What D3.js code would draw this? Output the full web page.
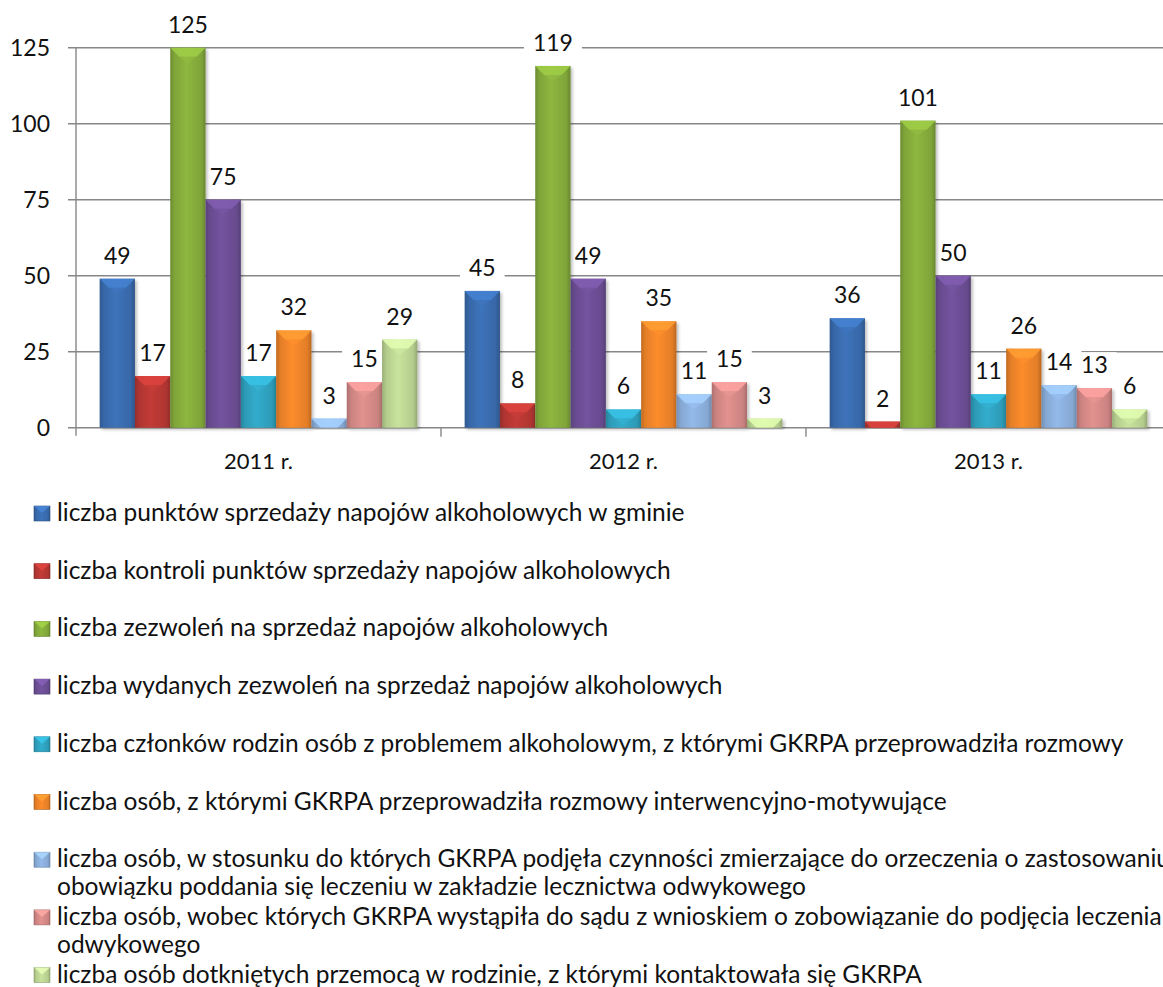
<!DOCTYPE html>
<html>
<head>
<meta charset="utf-8">
<script src="https://cdn.jsdelivr.net/npm/d3@7"></script>
<style>
    body { margin: 0; background: #fff; }
    svg { display: block; font-family: Lato, "Open Sans", sans-serif; }
</style>
</head>
<body>
<svg id="chart" width="1163" height="987"></svg>
<script>
// data
const years = ["2011 r.", "2012 r.", "2013 r."];
const seriesNames = [
    "liczba punktów sprzedaży napojów alkoholowych w gminie",
    "liczba kontroli punktów sprzedaży napojów alkoholowych",
    "liczba zezwoleń na sprzedaż napojów alkoholowych",
    "liczba wydanych zezwoleń na sprzedaż napojów alkoholowych",
    "liczba członków rodzin osób z problemem alkoholowym, z którymi GKRPA przeprowadziła rozmowy",
    "liczba osób, z którymi GKRPA przeprowadziła rozmowy interwencyjno-motywujące",
    "liczba osób, w stosunku do których GKRPA podjęła czynności zmierzające do orzeczenia o zastosowaniu|obowiązku poddania się leczeniu w zakładzie lecznictwa odwykowego",
    "liczba osób, wobec których GKRPA wystąpiła do sądu z wnioskiem o zobowiązanie do podjęcia leczenia|odwykowego",
    "liczba osób dotkniętych przemocą w rodzinie, z którymi kontaktowała się GKRPA"
];
const values2011 = [49, 17, 125, 75, 17, 32, 3, 15, 29];
const values2012 = [45, 8, 119, 49, 6, 35, 11, 15, 3];
const values2013 = [36, 2, 101, 50, 11, 26, 14, 13, 6];
const yTicks = [0, 25, 50, 75, 100, 125];

const colors = ["#3a6db0", "#b93834", "#86ad3c", "#6d4f96", "#2fa3c1",
                "#f0852a", "#8cb0de", "#d68a88", "#bed795"];

const layout = {
    left: 76, top: 47.7, bottom: 427.7, groupWidth: 365,
    legendX: 34, legendTop: 521, legendStep: 57.7, wrapStep: 28
};

const svg = d3.select("#chart");
const defs = svg.append("defs");
const valuesByYear = [values2011, values2012, values2013];

// horizontal gradient per series, darker at the edges like the bevelled bars
colors.forEach(function(c, i) {
    let g = defs.append("linearGradient").attr("id", "grad" + i)
        .attr("x1", "0").attr("x2", "1").attr("y1", "0").attr("y2", "0");
    let base = d3.color(c);
    g.append("stop").attr("offset", "0%").attr("stop-color", base.darker(0.6));
    g.append("stop").attr("offset", "12%").attr("stop-color", base.darker(0.15));
    g.append("stop").attr("offset", "45%").attr("stop-color", base.brighter(0.15));
    g.append("stop").attr("offset", "88%").attr("stop-color", base.darker(0.15));
    g.append("stop").attr("offset", "100%").attr("stop-color", base.darker(0.7));
});

let shadow = defs.append("filter").attr("id", "shadow")
    .attr("x", "-20%").attr("y", "-10%").attr("width", "150%").attr("height", "130%");
shadow.append("feDropShadow").attr("dx", 2).attr("dy", 2).attr("stdDeviation", 1.5)
    .attr("flood-color", "#000").attr("flood-opacity", 0.25);

const x0 = d3.scaleBand().domain(years)
    .range([layout.left, layout.left + layout.groupWidth * years.length]);
const x1 = d3.scaleBand().domain(d3.range(seriesNames.length))
    .range([0, x0.bandwidth()]).paddingInner(0).paddingOuter(0.67);
const y = d3.scaleLinear().domain([0, 125]).range([layout.bottom, layout.top]);

// gridlines
svg.append("g").selectAll("line").data(yTicks).enter().append("line")
    .attr("x1", layout.left - 8).attr("x2", 1163)
    .attr("y1", d => y(d)).attr("y2", d => y(d))
    .attr("stroke", "#878787").attr("stroke-width", 1.4);

// left axis line + labels
svg.append("line").attr("x1", layout.left).attr("x2", layout.left)
    .attr("y1", y(125)).attr("y2", layout.bottom + 8)
    .attr("stroke", "#878787").attr("stroke-width", 1.4);
svg.append("g").selectAll("text").data(yTicks).enter().append("text")
    .attr("x", 50).attr("y", d => y(d) + 8)
    .attr("text-anchor", "end").attr("font-size", 23).attr("fill", "#111")
    .text(d => d);

// category ticks and labels
svg.append("g").selectAll("line").data(years.slice(1)).enter().append("line")
    .attr("x1", d => x0(d)).attr("x2", d => x0(d))
    .attr("y1", layout.bottom).attr("y2", layout.bottom + 9)
    .attr("stroke", "#878787").attr("stroke-width", 1.4);
svg.append("g").selectAll("text").data(years).enter().append("text")
    .attr("x", d => x0(d) + x0.bandwidth() / 2).attr("y", 469)
    .attr("text-anchor", "middle").attr("font-size", 22).attr("fill", "#111")
    .text(d => d);

// layers: label backgrounds sit under the bars but over the gridlines
const bgLayer = svg.append("g");
const barLayer = svg.append("g");
const labelLayer = svg.append("g");

years.forEach(function(year, yi) {
    let gx = x0(year);
    let w = x1.bandwidth();
    valuesByYear[yi].forEach(function(v, si) {
        let bx = gx + x1(si), by = y(v), bh = layout.bottom - y(v);
        let bar = barLayer.append("g");
        bar.append("rect")
            .attr("x", bx).attr("y", by).attr("width", w).attr("height", bh)
            .attr("fill", "url(#grad" + si + ")")
            .attr("filter", "url(#shadow)");
        // top bevel
        let b = Math.min(9, bh);
        let base = d3.color(colors[si]);
        bar.append("path")
            .attr("d", "M" + bx + "," + by + "L" + (bx + w) + "," + by +
                "L" + (bx + w - b) + "," + (by + b) + "L" + (bx + b) + "," + (by + b) + "Z")
            .attr("fill", base.brighter(0.5)).attr("opacity", 0.85);
        let c = Math.min(6, bh - b);
        if (c > 0) {
            bar.append("path")
                .attr("d", "M" + (bx + b) + "," + (by + b) + "L" + (bx + w / 2) + "," + (by + b + c) +
                    "L" + (bx + w - b) + "," + (by + b) + "Z")
                .attr("fill", base.brighter(0.25)).attr("opacity", 0.6);
        }

        // value label
        let txt = labelLayer.append("text")
            .attr("x", bx + w / 2).attr("y", by - 15)
            .attr("text-anchor", "middle").attr("font-size", 23).attr("fill", "#111")
            .text(v);
        let bb = txt.node().getBBox();
        bgLayer.append("rect")
            .attr("x", bb.x - 9).attr("y", bb.y + 2).attr("width", bb.width + 18).attr("height", bb.height - 3)
            .attr("fill", "#fff");
    });
});

// legend
const legend = svg.append("g");
seriesNames.forEach(function(name, i) {
    let rowY = layout.legendTop + i * layout.legendStep;
    let base = d3.color(colors[i]);
    legend.append("rect")
        .attr("x", layout.legendX).attr("y", rowY - 15).attr("width", 16).attr("height", 15)
        .attr("fill", "url(#grad" + i + ")")
        .attr("stroke", base.darker(0.8)).attr("stroke-width", 0.6);
    legend.append("path")
        .attr("d", "M" + layout.legendX + "," + (rowY - 15) + "L" + (layout.legendX + 16) + "," + (rowY - 15) +
            "L" + (layout.legendX + 8) + "," + (rowY - 8) + "Z")
        .attr("fill", base.brighter(0.6)).attr("opacity", 0.8);
    name.split("|").forEach(function(line, li) {
        legend.append("text")
            .attr("x", 57).attr("y", rowY + li * layout.wrapStep)
            .attr("font-size", 24.5).attr("fill", "#111")
            .text(line);
    });
});
</script>
</body>
</html>
